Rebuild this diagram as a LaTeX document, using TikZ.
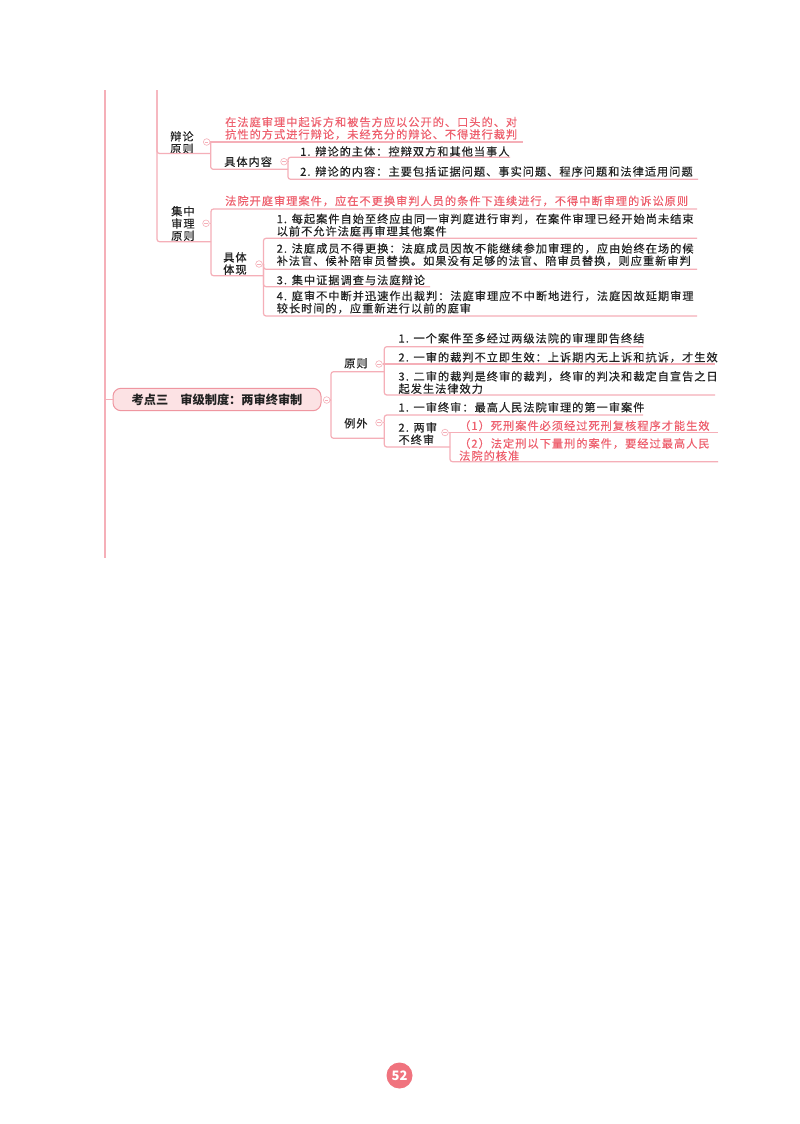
\documentclass[tikz,border=0pt]{standalone}
\usepackage{fontspec}
\setmainfont{Noto Sans CJK SC}
\newfontfamily\cjkt{Noto Sans CJK SC}[LetterSpace=9,FakeBold=0.35]
\usetikzlibrary{calc}
\definecolor{lnc}{HTML}{F5AFB8}
\definecolor{redt}{HTML}{EE5F6D}
\definecolor{boxf}{HTML}{FCE2E4}
\definecolor{boxd}{HTML}{EF96A0}
\definecolor{pgc}{HTML}{F0737E}
\definecolor{blk}{HTML}{222222}
\begin{document}
\begin{tikzpicture}[x=1pt,y=-1pt,
  conn/.style={draw=lnc,line width=1.2pt,rounded corners=2.5pt},
  txt/.style={anchor=west,inner sep=0pt,align=left,font=\cjkt\fontsize{11.2}{12.3}\selectfont,text=blk},
  rtxt/.style={txt,text=redt},
  fold/.style={circle,draw=lnc,fill=white,line width=0.6pt,minimum size=6.6pt,inner sep=0pt,
    path picture={\draw[lnc,line width=0.5pt] ([xshift=-1.6pt]path picture bounding box.center) -- ([xshift=1.6pt]path picture bounding box.center);}},
]
\fill[white] (0,0) rectangle (800,1124);
\useasboundingbox (0,0) rectangle (800,1124);

% ---------- text nodes ----------
\node[txt] (bl) at (170,142.5) {辩论\\原则};
\node[rtxt] (red1) at (225,128.3) {在法庭审理中起诉方和被告方应以公开的、口头的、对\\抗性的方式进行辩论，未经充分的辩论、不得进行裁判};
\node[txt] (jtnr) at (224,161.7) {具体内容};
\node[txt] (d1) at (300,151.5) {1. 辩论的主体：控辩双方和其他当事人};
\node[txt] (d2) at (300,171.5) {2. 辩论的内容：主要包括证据问题、事实问题、程序问题和法律适用问题};

\node[txt] (jz) at (171,223.5) {集中\\审理\\原则};
\node[rtxt] (red2) at (225,201) {法院开庭审理案件，应在不更换审判人员的条件下连续进行，不得中断审理的诉讼原则};
\node[txt] (jttx) at (223,263.5) {具体\\体现};
\node[txt] (t1) at (276.5,225) {1. 每起案件自始至终应由同一审判庭进行审判，在案件审理已经开始尚未结束\\以前不允许法庭再审理其他案件};
\node[txt] (t2) at (276.5,254.7) {2. 法庭成员不得更换：法庭成员因故不能继续参加审理的，应由始终在场的候\\补法官、候补陪审员替换。如果没有足够的法官、陪审员替换，则应重新审判};
\node[txt] (t3) at (276.5,280) {3. 集中证据调查与法庭辩论};
\node[txt] (t4) at (276.5,302.2) {4. 庭审不中断并迅速作出裁判：法庭审理应不中断地进行，法庭因故延期审理\\较长时间的，应重新进行以前的庭审};

\node[draw=boxd,fill=boxf,rounded corners=8pt,line width=1pt,minimum width=208pt,minimum height=22.4pt,inner sep=0pt,
  font=\bfseries\fontsize{12.2}{12.2}\selectfont,text=blk] (kd) at (217,399.5) {考点三　审级制度：两审终审制};

\node[txt] (yz) at (344,363.3) {原则};
\node[txt] (yz1) at (398.3,338.3) {1. 一个案件至多经过两级法院的审理即告终结};
\node[txt] (yz2) at (398.3,357.3) {2. 一审的裁判不立即生效：上诉期内无上诉和抗诉，才生效};
\node[txt] (yz3) at (398.3,382.5) {3. 二审的裁判是终审的裁判，终审的判决和裁定自宣告之日\\起发生法律效力};
\node[txt] (lw) at (344,423.3) {例外};
\node[txt] (lw1) at (398.3,407.3) {1. 一审终审：最高人民法院审理的第一审案件};
\node[txt] (lw2) at (398.3,433.5) {2. 两审\\不终审};
\node[rtxt] (r1) at (459,425.7) {（1）死刑案件必须经过死刑复核程序才能生效};
\node[rtxt] (r2) at (459,449.5) {（2）法定刑以下量刑的案件，要经过最高人民\\法院的核准};

% ---------- fold circles ----------
\node[fold] (bl-f) at (206.7,142) {};
\node[fold] (jtnr-f) at (284,161.7) {};
\node[fold] (jz-f) at (206,223.3) {};
\node[fold] (jttx-f) at (259,264) {};
\node[fold] (kd-f) at (326.7,400) {};
\node[fold] (yz-f) at (379,364) {};
\node[fold] (lw-f) at (379,422.7) {};
\node[fold] (lw2-f) at (445,432.5) {};

% ---------- junctions and underline ends ----------
\coordinate (m-top) at (105,90);
\coordinate (m-bot) at (105,558);
\coordinate (s-top) at (157,90);

\coordinate (bl-u) at (210.7,153.5);
\coordinate (bl-j) at (210.7,142);
\coordinate (red1-u) at (523,142);
\coordinate (jtnr-u) at (288,169.3);
\coordinate (jtnr-j) at (288,161.7);
\coordinate (d1-u) at (510,157.3);
\coordinate (d2-u) at (698,179.3);

\coordinate (jz-u) at (211,241.7);
\coordinate (jz-j) at (211,223.3);
\coordinate (red2-u) at (697,209);
\coordinate (jttx-u) at (263.5,275.7);
\coordinate (jttx-j) at (263.5,264);
\coordinate (t1-u) at (697,238.3);
\coordinate (t2-u) at (697,269.3);
\coordinate (t3-u) at (430,286.7);
\coordinate (t4-u) at (697,316);

\coordinate (kd-j) at (331,400);
\coordinate (yz-u) at (384.3,371.7);
\coordinate (yz-j) at (384.3,364);
\coordinate (yz1-u) at (643,346.7);
\coordinate (yz2-u) at (715,364);
\coordinate (yz3-u) at (715,395);
\coordinate (lw-u) at (384.3,438.3);
\coordinate (lw-j) at (384.3,422.7);
\coordinate (lw1-u) at (643,415);
\coordinate (lw2-u) at (450,447);
\coordinate (lw2-j) at (450,432.5);
\coordinate (r1-u) at (718,432.5);
\coordinate (r2-u) at (718,461.7);

% ---------- connectors ----------
\draw[conn] (m-top) -- (m-bot);
\draw[conn,rounded corners=0pt] (m-top |- kd.west) -- (kd.west);
\draw[conn] (s-top) |- (bl-u);
\draw[conn] (s-top) |- (jz-u);

\draw[conn] (bl-f.east) -- (bl-j);
\draw[conn] (bl-j) -- (red1-u);
\draw[conn] (bl-j) |- (jtnr-u);

\draw[conn] (jtnr-f.east) -- (jtnr-j);
\draw[conn] (jtnr-j) |- (d1-u);
\draw[conn] (jtnr-j) |- (d2-u);

\draw[conn] (jz-f.east) -- (jz-j);
\draw[conn] (jz-j) |- (red2-u);
\draw[conn] (jz-j) |- (jttx-u);

\draw[conn] (jttx-f.east) -- (jttx-j);
\draw[conn] (jttx-j) |- (t1-u);
\draw[conn] (jttx-j) |- (t2-u);
\draw[conn] (jttx-j) |- (t3-u);
\draw[conn] (jttx-j) |- (t4-u);

\draw[conn] (kd-f.east) -- (kd-j);
\draw[conn] (kd-j) |- (yz-u);
\draw[conn] (kd-j) |- (lw-u);

\draw[conn] (yz-f.east) -- (yz-j);
\draw[conn] (yz-j) |- (yz1-u);
\draw[conn] (yz-j) -- (yz2-u);
\draw[conn] (yz-j) |- (yz3-u);

\draw[conn] (lw-f.east) -- (lw-j);
\draw[conn] (lw-j) |- (lw1-u);
\draw[conn] (lw-j) |- (lw2-u);

\draw[conn] (lw2-f.east) -- (lw2-j);
\draw[conn] (lw2-j) -- (r1-u);
\draw[conn] (lw2-j) |- (r2-u);

% ---------- page number ----------
\node[circle,fill=pgc,minimum size=26pt,inner sep=0pt,text=white,font=\bfseries\fontsize{13}{13}\selectfont] (pg) at (399.5,1075.5) {52};
\end{tikzpicture}
\end{document}
